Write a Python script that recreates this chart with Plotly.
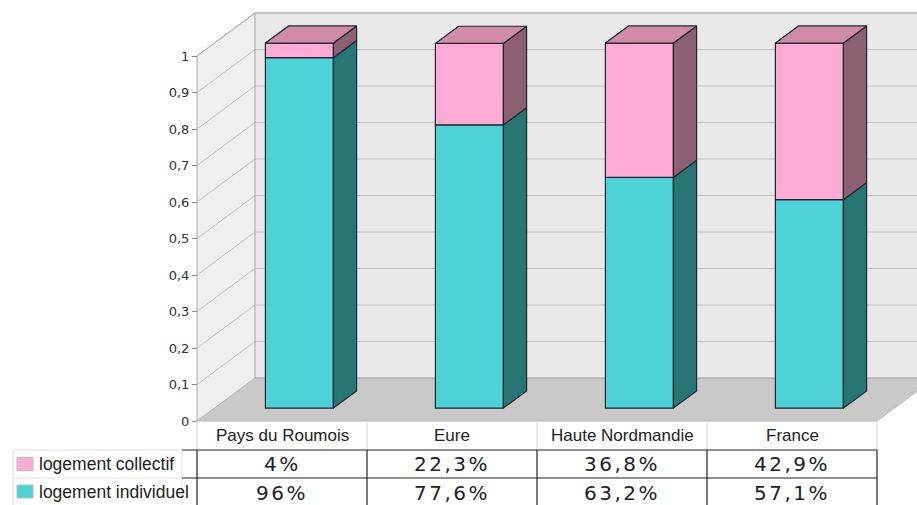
import plotly.graph_objects as go

# ---------------- data ----------------
categories = ["Pays du Roumois", "Eure", "Haute Nordmandie", "France"]
collectif = [4, 22.3, 36.8, 42.9]          # %
individuel = [96, 77.6, 63.2, 57.1]        # %
collectif_labels = ["4%", "22,3%", "36,8%", "42,9%"]
individuel_labels = ["96%", "77,6%", "63,2%", "57,1%"]
series_names = ["logement collectif", "logement individuel"]
y_ticks = [0, 0.1, 0.2, 0.3, 0.4, 0.5, 0.6, 0.7, 0.8, 0.9, 1]

# ---------------- styling / geometry ----------------
W, H = 917, 505
PX_CAT, PX_UNIT = 170, 365            # pixels per category, per value unit
ORIG_X, ORIG_Y = 282, 421             # pixel of category 0 / value 0 (front plane)
DEPTH_DX, DEPTH_DY = 58, 43           # pixel offset of the back wall
KX, KY = DEPTH_DX / PX_CAT, DEPTH_DY / PX_UNIT
D0, D1 = 0.30, 0.70                   # bar front / back depth
BAR_W = 0.4

CYAN, CYAN_SIDE = "#4dd3d5", "#287674"
PINK, PINK_SIDE, PINK_TOP = "#ffabd5", "#8d5f72", "#d28aa9"
OUTLINE = "#1e2630"
BACK_WALL, SIDE_WALL, FLOOR = "#e9e9e9", "#efefef", "#c9c9c9"
GRID, EDGE = "#c2c2c2", "#a8a8a8"


def px_x(px):
    return (px - ORIG_X) / PX_CAT


def px_y(py):
    return (ORIG_Y - py) / PX_UNIT


def P(c, v, d):
    """oblique projection of (category, value, depth) into axis units"""
    return c + d * KX, v + d * KY


def path(points):
    return "M " + " L ".join(f"{x},{y}" for x, y in points) + " Z"


shapes = []
# walls and floor
shapes.append(dict(type="path", layer="below", fillcolor=SIDE_WALL, line=dict(width=0),
                   path=path([P(-0.5, 0, 0), P(-0.5, 1, 0), P(-0.5, 1, 1), P(-0.5, 0, 1)])))
shapes.append(dict(type="path", layer="below", fillcolor=BACK_WALL, line=dict(width=0),
                   path=path([P(-0.5, 0, 1), P(3.5, 0, 1), P(3.5, 1, 1), P(-0.5, 1, 1)])))
# gridlines on left wall and back wall
for v in y_ticks[1:]:
    a, b, c = P(-0.5, v, 0), P(-0.5, v, 1), P(3.5, v, 1)
    shapes.append(dict(type="path", layer="below", line=dict(color=GRID, width=1),
                       path=f"M {a[0]},{a[1]} L {b[0]},{b[1]} L {c[0]},{c[1]}"))
shapes.append(dict(type="path", layer="below", fillcolor=FLOOR, line=dict(color="#b5b5b5", width=1),
                   path=path([P(-0.5, 0, 0), P(3.5, 0, 0), P(3.5, 0, 1), P(-0.5, 0, 1)])))
# wall edges
for seg in [
    [P(-0.5, 0, 0), P(-0.5, 1, 0), P(-0.5, 1, 1), P(3.6, 1, 1)],
    [P(-0.5, 1, 1), P(-0.5, 0, 1), P(3.6, 0, 1)],
]:
    shapes.append(dict(type="path", layer="below", line=dict(color=EDGE, width=1),
                       path="M " + " L ".join(f"{x},{y}" for x, y in seg)))

# ---------------- table ----------------
ROW_PX = [421, 450, 478, 505]
rows_y = [px_y(p) for p in ROW_PX]
col_edges = [i - 0.5 for i in range(len(categories) + 1)]
for ce in col_edges:
    shapes.append(dict(type="line", layer="above", x0=ce, x1=ce, y0=rows_y[0], y1=rows_y[1],
                       line=dict(color="#d2d2d2", width=1)))
    shapes.append(dict(type="line", layer="above", x0=ce, x1=ce, y0=rows_y[1], y1=rows_y[3] - 0.01,
                       line=dict(color="#222222", width=1.2)))
# legend column box
shapes.append(dict(type="rect", layer="above", x0=px_x(13), x1=px_x(182), y0=rows_y[1], y1=rows_y[3] - 0.01,
                   line=dict(color="#dcdcdc", width=1), fillcolor="rgba(0,0,0,0)"))
shapes.append(dict(type="line", layer="above", x0=px_x(13), x1=px_x(182), y0=rows_y[2], y1=rows_y[2],
                   line=dict(color="#e2e2e2", width=1)))
for ry in rows_y[1:3]:
    shapes.append(dict(type="line", layer="above", x0=px_x(182), x1=col_edges[-1], y0=ry, y1=ry,
                       line=dict(color="#222222", width=1.2)))

VAL_STYLE = "letter-spacing:2.5px"
annotations = []
for i, cat in enumerate(categories):
    annotations.append(dict(x=i, y=(rows_y[0] + rows_y[1]) / 2, text=cat, showarrow=False,
                            xanchor="center", yanchor="middle",
                            font=dict(family="Liberation Sans, Arial", size=17, color="#222")))
    annotations.append(dict(x=i, y=(rows_y[1] + rows_y[2]) / 2,
                            text=f'<span style="{VAL_STYLE}">{collectif_labels[i]}</span>', showarrow=False,
                            xanchor="center", yanchor="middle",
                            font=dict(family="DejaVu Sans", size=20, color="#222")))
    annotations.append(dict(x=i, y=(rows_y[2] + rows_y[3]) / 2 - 0.003,
                            text=f'<span style="{VAL_STYLE}">{individuel_labels[i]}</span>',
                            showarrow=False, xanchor="center", yanchor="middle",
                            font=dict(family="DejaVu Sans", size=20, color="#222")))

# legend swatches and labels
for k, (name, col) in enumerate(zip(series_names, [PINK, CYAN])):
    yc = (rows_y[1 + k] + rows_y[2 + k]) / 2
    hh = 6.5 / PX_UNIT
    shapes.append(dict(type="rect", layer="above", x0=px_x(17), x1=px_x(33), y0=yc - hh, y1=yc + hh,
                       fillcolor=col, line=dict(color="#bbbbbb", width=1)))
    annotations.append(dict(x=px_x(37), y=yc, text=name, showarrow=False, xanchor="left", yanchor="middle",
                            font=dict(family="Liberation Sans, Arial", size=17.5, color="#222")))

# ---------------- bars ----------------
fig = go.Figure()
xf = [i + D0 * KX for i in range(len(categories))]
base0 = D0 * KY
ind = [v / 100 for v in individuel]
col = [v / 100 for v in collectif]

fig.add_trace(go.Bar(x=xf, y=ind, base=[base0] * len(ind), width=BAR_W, name=series_names[1],
                     marker=dict(color=CYAN, line=dict(color=OUTLINE, width=1.2)), hoverinfo="skip"))
fig.add_trace(go.Bar(x=xf, y=col, base=[base0 + v for v in ind], width=BAR_W, name=series_names[0],
                     marker=dict(color=PINK, line=dict(color=OUTLINE, width=1.2)), hoverinfo="skip"))

bdx, bdy = (D1 - D0) * KX, (D1 - D0) * KY
for i in range(len(categories)):
    left, right = xf[i] - BAR_W / 2, xf[i] + BAR_W / 2
    segs = [(base0, base0 + ind[i], CYAN_SIDE), (base0 + ind[i], base0 + ind[i] + col[i], PINK_SIDE)]
    for y0, y1, sc in segs:
        fig.add_trace(go.Scatter(
            x=[right, right + bdx, right + bdx, right, right],
            y=[y0, y0 + bdy, y1 + bdy, y1, y0],
            mode="lines", fill="toself", fillcolor=sc,
            line=dict(color=OUTLINE, width=1.2), hoverinfo="skip", showlegend=False))
    top = base0 + ind[i] + col[i]
    fig.add_trace(go.Scatter(
        x=[left, right, right + bdx, left + bdx, left],
        y=[top, top, top + bdy, top + bdy, top],
        mode="lines", fill="toself", fillcolor=PINK_TOP,
        line=dict(color=OUTLINE, width=1.2), hoverinfo="skip", showlegend=False))

fig.update_layout(
    width=W, height=H, margin=dict(l=0, r=0, t=0, b=0),
    paper_bgcolor="white", plot_bgcolor="white",
    barmode="overlay", showlegend=False, separators=", ",
    shapes=shapes, annotations=annotations,
    xaxis=dict(range=[px_x(0), px_x(W)], visible=False, fixedrange=True),
    yaxis=dict(range=[px_y(H), px_y(0)], anchor="free", position=197 / W, side="left",
               tickvals=y_ticks, ticks="outside", ticklen=5, tickcolor="#8a8a8a",
               showgrid=False, zeroline=False, showline=False,
               tickfont=dict(family="DejaVu Sans", size=13, color="#333")),
)

fig.write_html("out.html")
